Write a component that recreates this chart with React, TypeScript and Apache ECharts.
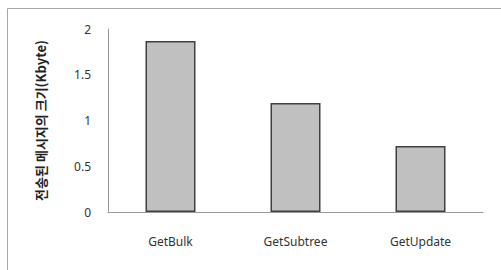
import React, { useEffect, useRef } from "react";
import * as echarts from "echarts";

const categories = ["GetBulk", "GetSubtree", "GetUpdate"];
const values = [1.87, 1.19, 0.72];
const yTicks = [0, 0.5, 1, 1.5, 2];
const yName = "전송된 메시지의 크기";
const yUnit = "(Kbyte)";

export default function App() {
  const ref = useRef<HTMLDivElement>(null);
  useEffect(() => {
    if (!ref.current) return;
    const chart = echarts.init(ref.current, null, { renderer: "svg" });
    chart.setOption({
      animation: false,
      backgroundColor: "#ffffff",
      graphic: [
        {
          type: "rect",
          shape: { x: 7.5, y: 8.5, width: 600, height: 400 },
          style: { fill: "none", stroke: "#a8a8a8", lineWidth: 1 },
          silent: true,
        },
      ],
      grid: { left: 108, right: 18, top: 29, bottom: 58 },
      xAxis: {
        type: "category",
        data: categories,
        z: 5,
        axisLine: { show: true, lineStyle: { color: "#999999", width: 1 } },
        axisTick: { show: false },
        axisLabel: {
          color: "#333333",
          fontSize: 12,
          margin: 23,
          fontFamily: "Noto Sans, sans-serif",
        },
      },
      yAxis: {
        type: "value",
        min: yTicks[0],
        max: yTicks[yTicks.length - 1],
        interval: 0.5,
        axisLine: { show: true, lineStyle: { color: "#999999", width: 1 } },
        axisTick: { show: false },
        splitLine: { show: false },
        axisLabel: {
          color: "#333333",
          fontSize: 12,
          margin: 17,
          fontFamily: "Noto Sans, sans-serif",
        },
        name: "{a|" + yName + "}{b|" + yUnit + "}",
        nameLocation: "middle",
        nameGap: 61,
        nameRotate: 90,
        nameTextStyle: {
          rich: {
            a: {
              fontSize: 13,
              fontWeight: "bold",
              color: "#222222",
              fontFamily: "Noto Sans CJK KR, sans-serif",
            },
            b: {
              fontSize: 13,
              fontWeight: "bold",
              color: "#222222",
              fontFamily: "Noto Sans CJK KR, sans-serif",
            },
          },
        },
      },
      series: [
        {
          type: "bar",
          data: values,
          barWidth: "40%",
          itemStyle: {
            color: "#c0c0c0",
            borderColor: "#404040",
            borderWidth: 1.5,
          },
        },
      ],
    });
    return () => chart.dispose();
  }, []);
  return (
    <div
      ref={ref}
      style={{ position: "fixed", left: 0, top: 0, width: 501, height: 270 }}
    />
  );
}
